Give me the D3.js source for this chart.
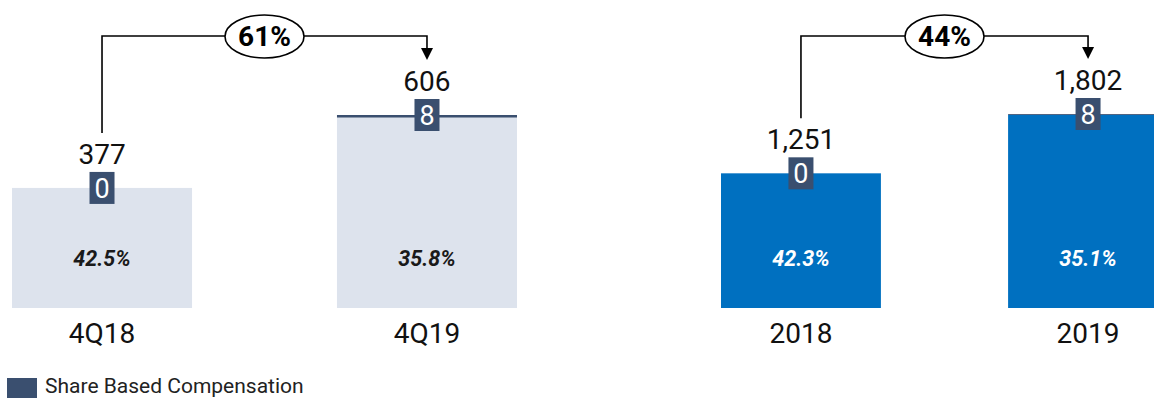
<!DOCTYPE html>
<html>
<head>
<meta charset="utf-8">
<script src="https://cdn.jsdelivr.net/npm/d3@7/dist/d3.min.js"></script>
<style>
  html, body { margin: 0; padding: 0; background: #fff; }
  svg { display: block; font-family: Roboto, "Noto Sans", sans-serif; }
</style>
</head>
<body>
<svg id="chart" width="1154" height="398"></svg>
<script>
// Quarterly panel
const quarterCats = ["4Q18", "4Q19"];
const quarterTotals = [377, 606];
const quarterSbc = [0, 8];
const quarterMargins = ["42.5%", "35.8%"];
const quarterGrowth = "61%";

// Annual panel
const yearCats = ["2018", "2019"];
const yearTotals = [1251, 1802];
const yearSbc = [0, 8];
const yearMargins = ["42.3%", "35.1%"];
const yearGrowth = "44%";

const legendLabel = "Share Based Compensation";

const svg = d3.select("#chart");
const baseY = 308;
const sbcColor = "#3a4f6f";

function panel(cfg) {
  const x = d3.scaleBand().domain(cfg.cats).range(cfg.xRange).paddingInner(cfg.pad).paddingOuter(0);
  const y = d3.scaleLinear().domain([0, cfg.yMax]).range([baseY, cfg.yTop]);
  const g = svg.append("g");
  const rows = cfg.cats.map((c, i) => ({
    cat: c, total: cfg.totals[i], sbc: cfg.sbc[i], margin: cfg.margins[i]
  }));
  const cxOf = d => x(d.cat) + x.bandwidth() / 2;

  // main bar (total less share based compensation)
  g.selectAll("rect.main").data(rows).join("rect")
    .attr("class", "main")
    .attr("x", d => x(d.cat))
    .attr("width", x.bandwidth())
    .attr("y", d => y(d.total - d.sbc))
    .attr("height", d => y(0) - y(d.total - d.sbc))
    .attr("fill", cfg.barColor);

  // share based compensation segment on top
  g.selectAll("rect.sbc").data(rows).join("rect")
    .attr("class", "sbc")
    .attr("x", d => x(d.cat))
    .attr("width", x.bandwidth())
    .attr("y", d => y(d.total))
    .attr("height", d => y(d.total - d.sbc) - y(d.total))
    .attr("fill", sbcColor);

  // margin labels inside bars
  g.selectAll("text.margin").data(rows).join("text")
    .attr("class", "margin")
    .attr("x", cxOf)
    .attr("y", 266)
    .attr("text-anchor", "middle")
    .attr("font-size", 21.5)
    .attr("font-weight", "bold")
    .attr("font-style", "italic")
    .attr("fill", cfg.marginColor)
    .text(d => d.margin);

  // sbc value boxes
  const box = g.selectAll("g.sbcbox").data(rows).join("g")
    .attr("class", "sbcbox")
    .attr("transform", d => `translate(${cxOf(d)},${y(d.total)})`);
  box.append("rect")
    .attr("x", -12.5).attr("y", -16)
    .attr("width", 25).attr("height", 32)
    .attr("fill", sbcColor);
  box.append("text")
    .attr("text-anchor", "middle")
    .attr("y", 10)
    .attr("font-size", 27)
    .attr("fill", "#fff")
    .text(d => d.sbc);

  // total labels
  g.selectAll("text.total").data(rows).join("text")
    .attr("class", "total")
    .attr("x", cxOf)
    .attr("y", d => y(d.total) - 24)
    .attr("text-anchor", "middle")
    .attr("font-size", 28)
    .attr("fill", "#111")
    .text(d => d3.format(",")(d.total));

  // category axis labels
  g.selectAll("text.cat").data(rows).join("text")
    .attr("class", "cat")
    .attr("x", cxOf)
    .attr("y", 343)
    .attr("text-anchor", "middle")
    .attr("font-size", 28)
    .attr("fill", "#111")
    .text(d => d.cat);

  // growth connector
  const x0 = cxOf(rows[0]);
  const x1 = cxOf(rows[1]);
  const topY = 36;
  const startY = y(rows[0].total) - 55;
  const endY = y(rows[1].total) - 55;
  g.append("path")
    .attr("d", `M${x0},${startY}V${topY}H${x1}V${endY - 10}`)
    .attr("fill", "none")
    .attr("stroke", "#000")
    .attr("stroke-width", 1.6);
  g.append("path")
    .attr("d", `M${x1 - 6},${endY - 12}L${x1 + 6},${endY - 12}L${x1},${endY}Z`)
    .attr("fill", "#000");
  const cx = (x0 + x1) / 2;
  g.append("ellipse")
    .attr("cx", cx).attr("cy", topY + 0.5)
    .attr("rx", 39.5).attr("ry", 21.5)
    .attr("fill", "#fff")
    .attr("stroke", "#000")
    .attr("stroke-width", 1.6);
  g.append("text")
    .attr("x", cx).attr("y", topY + 10)
    .attr("text-anchor", "middle")
    .attr("font-size", 28)
    .attr("font-weight", "bold")
    .attr("fill", "#000")
    .text(cfg.growth);
}

panel({
  cats: quarterCats, totals: quarterTotals, sbc: quarterSbc, margins: quarterMargins,
  growth: quarterGrowth, xRange: [12, 517], pad: 0.446, yMax: 606, yTop: 115,
  barColor: "#dde3ed", marginColor: "#1a1a1a"
});
panel({
  cats: yearCats, totals: yearTotals, sbc: yearSbc, margins: yearMargins,
  growth: yearGrowth, xRange: [721, 1168], pad: 0.443, yMax: 1802, yTop: 114,
  barColor: "#0070c0", marginColor: "#ffffff"
});

// legend
const lg = svg.append("g").attr("transform", "translate(7,378)");
lg.append("rect").attr("width", 30).attr("height", 20).attr("fill", sbcColor);
lg.append("text")
  .attr("x", 38).attr("y", 15)
  .attr("font-size", 21)
  .attr("fill", "#222")
  .text(legendLabel);
</script>
</body>
</html>
